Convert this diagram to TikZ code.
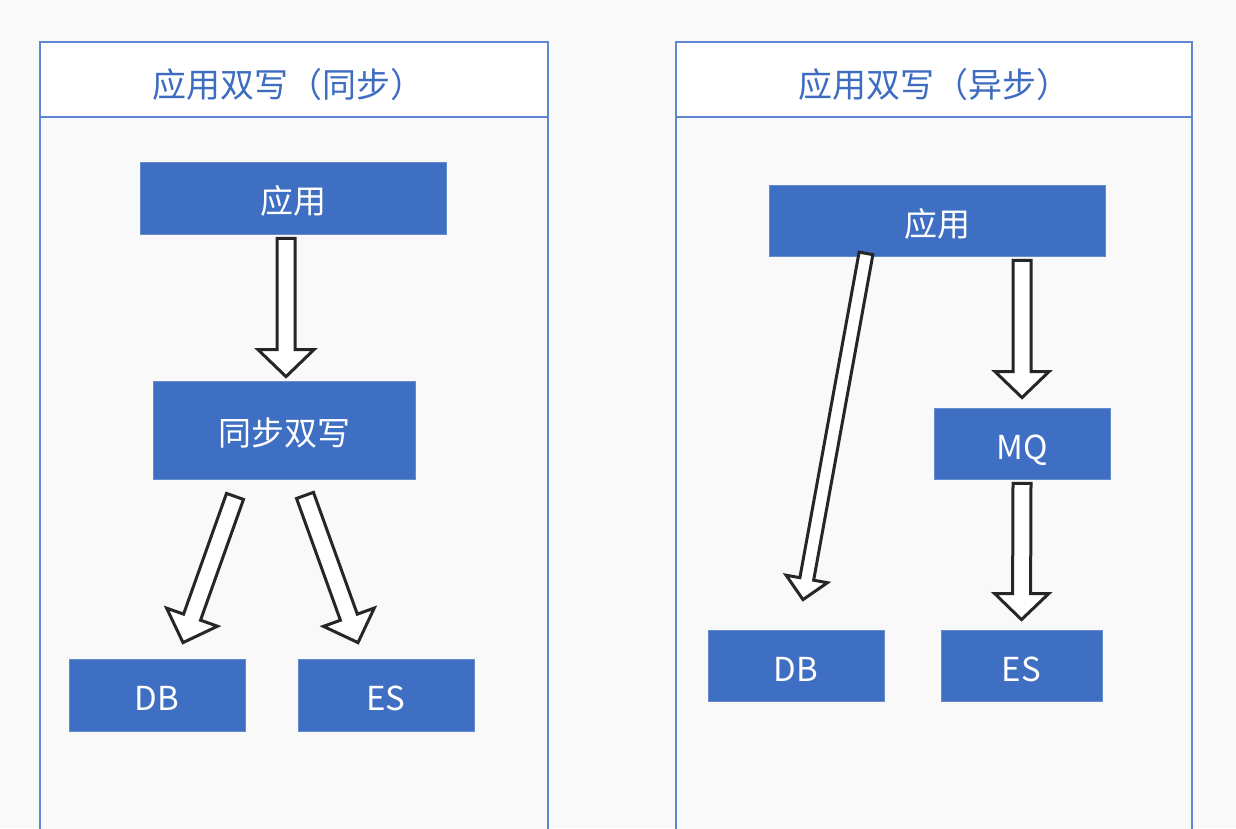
\documentclass[tikz,border=0pt]{standalone}
\usepackage{fontspec}
\setmainfont{Noto Sans CJK SC}
\usepackage{tikz}
\usetikzlibrary{calc}
\definecolor{bgG}{HTML}{F9F9F9}
\definecolor{boxB}{HTML}{3F6FC3}
\definecolor{lineB}{HTML}{5F86D2}
\definecolor{textB}{HTML}{3D6CC1}
\tikzset{
  panelS/.style ={draw=lineB, line width=1.6pt, fill=bgG},
  headS/.style  ={draw=lineB, line width=1.6pt, fill=white},
  headT/.style  ={text=textB, font=\fontsize{34}{40}\selectfont},
  box/.style    ={fill=boxB, draw=boxB!80!white, line width=0.8pt, text=white, inner sep=0pt,
                  font=\fontsize{33}{38}\selectfont, text height=31pt, text depth=0pt},
  blockarrow/.style={draw=black!85, line width=3pt, fill=white, line join=miter},
}
% #1 from, #2 tip, #3 half shaft, #4 half head, #5 head length (all in pt)
\newcommand{\blockarr}[5]{%
  \coordinate (ba-h) at ($(#2)!#5pt!(#1)$);
  \draw[blockarrow] ($(#1)!#3pt!90:(#2)$) -- ($(ba-h)!#3pt!90:(#2)$) -- ($(ba-h)!#4pt!90:(#2)$) -- (#2)
    -- ($(ba-h)!#4pt!-90:(#2)$) -- ($(ba-h)!#3pt!-90:(#2)$) -- ($(#1)!#3pt!-90:(#2)$) -- cycle;}

\begin{document}
\begin{tikzpicture}[x=1pt, y=-1pt]
  \useasboundingbox (0,0) rectangle (1236,828);
  \clip (0,0) rectangle (1236,828);
  \fill[bgG] (0,0) rectangle (1236,828);
  % left panel
  \draw[panelS] (40,42) rectangle (548,840);
  \draw[headS] (40,42) rectangle (548,117);
  \node[headT] (head1) at (288,85) {应用双写（同步）};
  \node[box, minimum width=306, minimum height=72] (app1) at (293,198) {应用};
  \node[box, minimum width=262, minimum height=98] (sync) at (284,430) {同步双写};
  \node[box, minimum width=176, minimum height=72] (db1) at (157,695) {DB};
  \node[box, minimum width=176, minimum height=72] (es1) at (386,695) {ES};
  \coordinate (s1) at ($(app1.south)+(-7,4)$);  \coordinate (t1) at ($(sync.north)+(2,-4)$);
  \coordinate (s2) at ($(sync.south)+(-49,17)$); \coordinate (t2) at ($(db1.north)+(26,-16)$);
  \coordinate (s3) at ($(sync.south)+(21,16)$);  \coordinate (t3) at ($(es1.north)+(-28,-16)$);
  \blockarr{s1}{t1}{9}{28}{27}
  \blockarr{s2}{t2}{9}{27}{27}
  \blockarr{s3}{t3}{9}{27}{27}
  % right panel
  \draw[panelS] (676,42) rectangle (1192,840);
  \draw[headS] (676,42) rectangle (1192,117);
  \node[headT] (head2) at (934,85) {应用双写（异步）};
  \node[box, minimum width=336, minimum height=71] (app2) at (937,220.5) {应用};
  \node[box, minimum width=176, minimum height=71] (mq) at (1022,443.5) {MQ};
  \node[box, minimum width=176, minimum height=71] (db2) at (796,665.5) {DB};
  \node[box, minimum width=161, minimum height=71] (es2) at (1021.5,665.5) {ES};
  \coordinate (s4) at ($(app2.south)+(-71,-3)$);        \coordinate (t4) at ($(db2.north)+(7,-30)$);
  \coordinate (s5) at ($(app2.south -| mq.north)+(0,4)$); \coordinate (t5) at ($(mq.north)+(0,-10)$);
  \coordinate (s6) at ($(mq.south)+(0,4)$);              \coordinate (t6) at ($(es2.north)+(0,-10)$);
  \blockarr{s4}{t4}{7}{21}{21}
  \blockarr{s5}{t5}{9}{27}{26}
  \blockarr{s6}{t6}{9}{27}{26}
\end{tikzpicture}
\end{document}
